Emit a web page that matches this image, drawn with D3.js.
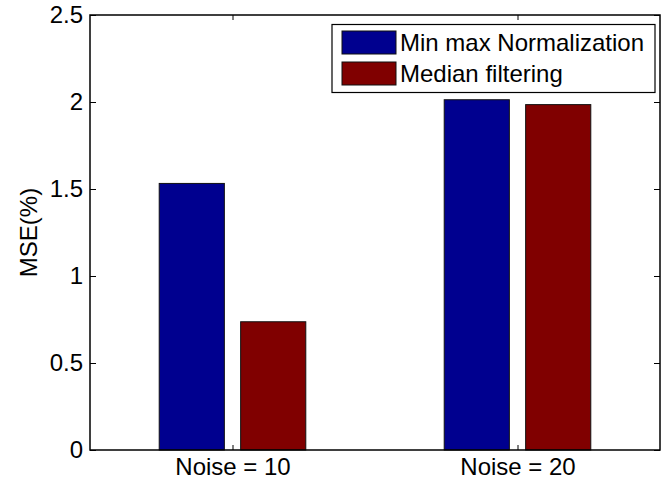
<!DOCTYPE html>
<html>
<head>
<meta charset="utf-8">
<script src="https://cdn.jsdelivr.net/npm/d3@7"></script>
<style>
  body { margin: 0; background: #fff; }
  svg { display: block; }
  text { font-family: "Liberation Sans", Arial, sans-serif; }
</style>
</head>
<body>
<div id="chart"></div>
<script>
// data
var categories = ["Noise = 10", "Noise = 20"];
var seriesNames = ["Min max Normalization", "Median filtering"];
var minmaxValues = [1.532, 2.013];
var medianValues = [0.737, 1.985];
var yTickValues = [0, 0.5, 1, 1.5, 2, 2.5];
var yTickLabels = ["0", "0.5", "1", "1.5", "2", "2.5"];
var seriesColors = ["#00008f", "#800000"];

var W = 669, H = 481;
// plot box edges (note: "top" is taken by window.top)
var axLeft = 90, axRight = 660, axTop = 15, axBottom = 450;
var fontSize = 24;

var svg = d3.select("#chart").append("svg")
  .attr("width", W)
  .attr("height", H);

var x = d3.scaleLinear().domain([0.5, categories.length + 0.5]).range([axLeft, axRight]);
var y = d3.scaleLinear().domain([0, 2.5]).range([axBottom, axTop]);

// matlab style grouped bars
var series = [minmaxValues, medianValues];
var nSeries = series.length;
var groupWidth = Math.min(0.8, nSeries / (nSeries + 1.5));
var barWidth = 0.8 * groupWidth / nSeries;

series.forEach(function(vals, s) {
  var off = (s - (nSeries - 1) / 2) * groupWidth / nSeries;
  svg.append("g").selectAll("rect")
    .data(vals)
    .enter().append("rect")
    .attr("x", function(d, i) { return x(i + 1 + off - barWidth / 2); })
    .attr("y", function(d) { return y(d); })
    .attr("width", x(barWidth) - x(0))
    .attr("height", function(d) { return y(0) - y(d); })
    .attr("fill", seriesColors[s])
    .attr("stroke", "#111")
    .attr("stroke-width", 1);
});

// axes, ticks pointing inward
var xTicks = categories.map(function(c, i) { return i + 1; });

var gLeft = svg.append("g").attr("transform", "translate(" + axLeft + ",0)")
  .call(d3.axisLeft(y).tickValues(yTickValues).tickSize(-6).tickPadding(7)
    .tickFormat(function(d, i) { return yTickLabels[i]; }));
var gRight = svg.append("g").attr("transform", "translate(" + axRight + ",0)")
  .call(d3.axisRight(y).tickValues(yTickValues).tickSize(-6).tickFormat(""));
var gBottom = svg.append("g").attr("transform", "translate(0," + axBottom + ")")
  .call(d3.axisBottom(x).tickValues(xTicks).tickSize(-5).tickPadding(12)
    .tickFormat(function(d, i) { return categories[i]; }));
var gTop = svg.append("g").attr("transform", "translate(0," + axTop + ")")
  .call(d3.axisTop(x).tickValues(xTicks).tickSize(-5).tickFormat(""));

[gLeft, gRight, gBottom, gTop].forEach(function(g) {
  g.select(".domain").remove();
  g.selectAll(".tick line").attr("stroke", "#000").attr("stroke-width", 1);
  g.selectAll(".tick text")
    .attr("fill", "#000")
    .style("font-size", fontSize + "px")
    .style("font-family", "'Liberation Sans', Arial, sans-serif");
});
gBottom.selectAll(".tick text").attr("dy", "0.55em");

// axes box
svg.append("rect")
  .attr("x", axLeft).attr("y", axTop)
  .attr("width", axRight - axLeft).attr("height", axBottom - axTop)
  .attr("fill", "none")
  .attr("stroke", "#000")
  .attr("stroke-width", 1.5);

// y label
svg.append("text")
  .attr("transform", "translate(37," + (axTop + axBottom) / 2 + ") rotate(-90)")
  .attr("text-anchor", "middle")
  .style("font-size", fontSize + "px")
  .text("MSE(%)");

// legend
var legend = svg.append("g");
legend.append("rect")
  .attr("x", 332).attr("y", 24.5)
  .attr("width", 323).attr("height", 68)
  .attr("fill", "#fff")
  .attr("stroke", "#000")
  .attr("stroke-width", 1.2);

var items = legend.selectAll("g.item")
  .data(seriesNames)
  .enter().append("g")
  .attr("class", "item")
  .attr("transform", function(d, i) { return "translate(0," + (i * 31) + ")"; });

items.append("rect")
  .attr("x", 342).attr("y", 31)
  .attr("width", 54).attr("height", 23)
  .attr("fill", function(d, i) { return seriesColors[i]; })
  .attr("stroke", "#111")
  .attr("stroke-width", 1);

items.append("text")
  .attr("x", 400).attr("y", 51)
  .style("font-size", fontSize + "px")
  .text(function(d) { return d; });
</script>
</body>
</html>
